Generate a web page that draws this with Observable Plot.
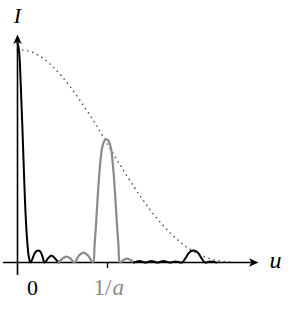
<!DOCTYPE html>
<html>
<head>
<meta charset="utf-8">
<script src="https://cdn.jsdelivr.net/npm/d3@7"></script>
<script src="https://cdn.jsdelivr.net/npm/@observablehq/plot@0.6"></script>
<style>
  html, body { margin: 0; padding: 0; background: #fff; }
  #chart svg { display: block; }
</style>
</head>
<body>
<div id="chart"></div>
<script>
// Black curve near u = 0 (central order and first side lobes)
const blackU1 = [0, 0.018, 0.036, 0.054, 0.072, 0.090, 0.109, 0.127, 0.144, 0.167, 0.189, 0.211, 0.233, 0.256, 0.278, 0.300, 0.339, 0.378, 0.417, 0.456];
const blackI1 = [1.0, 0.959, 0.809, 0.618, 0.405, 0.218, 0.091, 0.023, 0, 0.018, 0.041, 0.052, 0.055, 0.048, 0.027, 0, 0.018, 0.032, 0.018, 0];
// Gray curve around u = 1/a
const grayU = [0.456, 0.500, 0.544, 0.589, 0.633, 0.683, 0.733, 0.783, 0.839, 0.856, 0.872, 0.894, 0.917, 0.939, 0.964, 0.989, 1.013, 1.039, 1.061, 1.083, 1.106, 1.122, 1.139, 1.178, 1.217, 1.256, 1.294];
const grayI = [0, 0.018, 0.027, 0.018, 0, 0.032, 0.045, 0.032, 0, 0.077, 0.168, 0.318, 0.441, 0.518, 0.552, 0.561, 0.552, 0.518, 0.441, 0.318, 0.168, 0.077, 0, 0.011, 0.018, 0.011, 0];
// Black curve beyond
const blackU2 = [1.294, 1.356, 1.422, 1.489, 1.556, 1.622, 1.689, 1.756, 1.828, 1.867, 1.900, 1.928, 1.956, 1.983, 2.011, 2.044, 2.083, 2.144, 2.211];
const blackI2 = [0, 0.007, 0, 0.007, 0, 0.007, 0, 0.005, 0, 0.020, 0.041, 0.052, 0.055, 0.052, 0.041, 0.020, 0, 0.005, 0];
// Dotted envelope
const envU = [0, 0.056, 0.144, 0.256, 0.367, 0.478, 0.589, 0.700, 0.811, 0.922, 1.033, 1.144, 1.256, 1.367, 1.478, 1.589, 1.700, 1.811, 1.922, 2.033, 2.144, 2.256, 2.367];
const envI = [0.967, 0.966, 0.959, 0.936, 0.900, 0.853, 0.797, 0.733, 0.666, 0.593, 0.515, 0.441, 0.368, 0.300, 0.237, 0.182, 0.133, 0.092, 0.059, 0.034, 0.017, 0.006, 0.001];
// Tick labels
const tickPos = [0, 1];
const tickLabels = ["0", "1/a"];
const axisLabels = ["I", "u"];

const pts = (U, I) => U.map((u, i) => ({u, I: I[i]}));

const stealth = {
  draw(ctx, size) {
    const s = Math.sqrt(size / Math.PI);
    ctx.moveTo(0, -s);
    ctx.lineTo(s * 0.85, s * 0.9);
    ctx.lineTo(0, s * 0.4);
    ctx.lineTo(-s * 0.85, s * 0.9);
    ctx.closePath();
  }
};

const serif = "'Liberation Serif', 'DejaVu Serif', serif";

const chart = Plot.plot({
  width: 291,
  height: 313,
  margin: 0,
  style: {background: "#fff", overflow: "visible"},
  x: {domain: [0, 1], range: [17, 107], axis: null},
  y: {domain: [0, 1], range: [262, 42], axis: null},
  marks: [
    // dotted envelope
    Plot.line(pts(envU, envI), {x: "u", y: "I", curve: "catmull-rom", stroke: "#555", strokeWidth: 1.7, strokeLinecap: "round", strokeDasharray: "0,5.2"}),
    // axes
    Plot.ruleY([0], {x1: -0.156, x2: 2.64, stroke: "black", strokeWidth: 1.6}),
    Plot.ruleX([tickPos[0]], {y1: -0.059, y2: 1.0, stroke: "black", strokeWidth: 1.6}),
    Plot.ruleX([tickPos[1]], {y1: -0.027, y2: 0, stroke: "black", strokeWidth: 1.4}),
    Plot.dot([{u: 2.622, I: 0}], {x: "u", y: "I", symbol: stealth, r: 5, rotate: 90, fill: "black", stroke: "none"}),
    Plot.dot([{u: 0, I: 1.0136}], {x: "u", y: "I", symbol: stealth, r: 5, rotate: 0, fill: "black", stroke: "none"}),
    // curves
    Plot.line(pts(blackU1, blackI1), {x: "u", y: "I", curve: "catmull-rom", stroke: "black", strokeWidth: 2}),
    Plot.line(pts(grayU, grayI), {x: "u", y: "I", curve: "catmull-rom", stroke: "#8a8a8a", strokeWidth: 2.2}),
    Plot.line(pts(blackU2, blackI2), {x: "u", y: "I", curve: "catmull-rom", stroke: "black", strokeWidth: 2}),
    // axis labels
    Plot.text([axisLabels[0]], {x: 0, y: 1.12, text: d => d, fontFamily: serif, fontStyle: "italic", fontSize: 22, fill: "black"}),
    Plot.text([axisLabels[1]], {x: 2.867, y: 0, dy: -2, text: d => d, fontFamily: serif, fontStyle: "italic", fontSize: 24, fill: "black"}),
    // tick labels
    Plot.text([tickLabels[0]], {x: tickPos[0], y: -0.116, dx: 15, text: d => d, fontFamily: serif, fontSize: 22, fill: "black"}),
    Plot.text([tickLabels[1].slice(0, 2)], {x: tickPos[1], y: -0.116, dx: 4, textAnchor: "end", text: d => d, fontFamily: serif, fontSize: 23, fill: "#8a8a8a"}),
    Plot.text([tickLabels[1].slice(2)], {x: tickPos[1], y: -0.116, dx: 5, textAnchor: "start", text: d => d, fontFamily: serif, fontStyle: "italic", fontSize: 23, fill: "#8a8a8a"})
  ]
});
document.getElementById("chart").appendChild(chart);
</script>
</body>
</html>
